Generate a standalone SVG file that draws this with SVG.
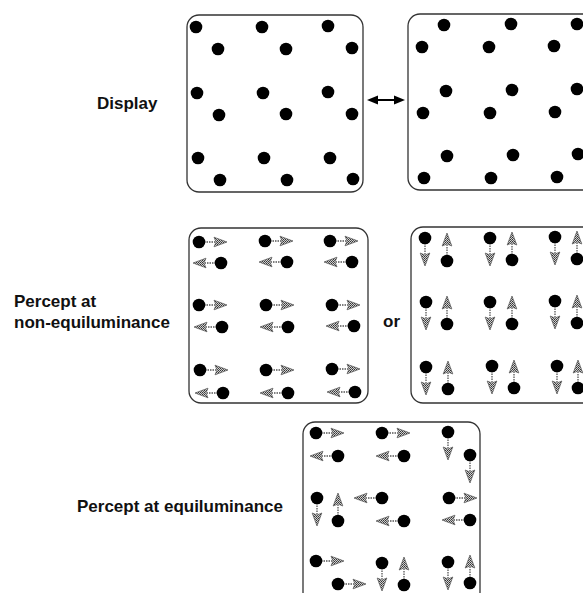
<svg xmlns="http://www.w3.org/2000/svg" xmlns:xlink="http://www.w3.org/1999/xlink" width="583" height="593" viewBox="0 0 583 593">
<style>
.panel{fill:#fff;stroke:#333;stroke-width:1.3}
.dot{fill:#000}
.lbl{font-family:"Liberation Sans",Arial,Helvetica,sans-serif;font-weight:bold;font-size:17px;fill:#111}
.shaft{stroke:#555;stroke-width:1.3;stroke-dasharray:1.5 1;fill:none}
.head{fill:url(#ht);stroke:#555;stroke-width:0.7}
</style>
<defs>
<pattern id="ht" width="2" height="2" patternUnits="userSpaceOnUse">
<rect width="2" height="2" fill="#d0d0d0"/>
<rect width="1" height="1" fill="#333"/>
<rect x="1" y="1" width="1" height="1" fill="#555"/>
</pattern>
<g id="a">
<line class="shaft" x1="5" y1="0" x2="16" y2="0"/>
<polygon class="head" points="15,-4.8 28,0 15,4.8 17,0"/>
</g>
<circle id="d" r="6.3" class="dot"/>
</defs>
<rect width="583" height="593" fill="#fff"/>

<g id="label-display"><text class="lbl" x="97" y="109">Display</text></g>
<g id="label-nonequi"><text class="lbl" x="14" y="307">Percept at</text><text class="lbl" x="14" y="328">non-equiluminance</text></g>
<g id="label-or"><text class="lbl" x="383" y="327">or</text></g>
<g id="label-equi"><text class="lbl" x="77" y="512">Percept at equiluminance</text></g>

<g id="display-frame1">
<rect class="panel" x="187" y="15" width="176" height="177" rx="12"/>
<use href="#d" x="196" y="27"/><use href="#d" x="262" y="27"/><use href="#d" x="328" y="26"/>
<use href="#d" x="218" y="49"/><use href="#d" x="286" y="49"/><use href="#d" x="352" y="48"/>
<use href="#d" x="197" y="93"/><use href="#d" x="263" y="93"/><use href="#d" x="328" y="92"/>
<use href="#d" x="219" y="115"/><use href="#d" x="286" y="114"/><use href="#d" x="352" y="114"/>
<use href="#d" x="198" y="158"/><use href="#d" x="264" y="158"/><use href="#d" x="330" y="158"/>
<use href="#d" x="220" y="180"/><use href="#d" x="287" y="180"/><use href="#d" x="353" y="179"/>
</g>

<g id="display-frame2">
<rect class="panel" x="408" y="14" width="190" height="176" rx="12"/>
<use href="#d" x="444" y="25"/><use href="#d" x="511" y="24"/><use href="#d" x="577" y="24"/>
<use href="#d" x="422" y="47"/><use href="#d" x="489" y="47"/><use href="#d" x="554" y="46"/>
<use href="#d" x="446" y="91"/><use href="#d" x="512" y="90"/><use href="#d" x="577" y="89"/>
<use href="#d" x="423" y="113"/><use href="#d" x="490" y="113"/><use href="#d" x="555" y="112"/>
<use href="#d" x="447" y="156"/><use href="#d" x="513" y="155"/><use href="#d" x="578" y="154"/>
<use href="#d" x="424" y="178"/><use href="#d" x="491" y="178"/><use href="#d" x="557" y="177"/>
</g>

<g id="connectors">
<line x1="374" y1="100" x2="398" y2="100" stroke="#000" stroke-width="2"/>
<polygon points="367,100 378,95.5 378,104.5" fill="#000"/>
<polygon points="405,100 394,95.5 394,104.5" fill="#000"/>
</g>

<g id="percept-horizontal">
<rect class="panel" x="189" y="228" width="179" height="175" rx="12"/>
<use href="#a" transform="translate(199,242)"/><use href="#a" transform="translate(265,241)"/><use href="#a" transform="translate(330,241)"/>
<use href="#a" transform="translate(221,263) rotate(180)"/><use href="#a" transform="translate(287,262) rotate(180)"/><use href="#a" transform="translate(352,262) rotate(180)"/>
<use href="#a" transform="translate(199,305)"/><use href="#a" transform="translate(266,305)"/><use href="#a" transform="translate(332,305)"/>
<use href="#a" transform="translate(222,327) rotate(180)"/><use href="#a" transform="translate(288,327) rotate(180)"/><use href="#a" transform="translate(354,326) rotate(180)"/>
<use href="#a" transform="translate(200,370)"/><use href="#a" transform="translate(266,370)"/><use href="#a" transform="translate(332,369)"/>
<use href="#a" transform="translate(223,393) rotate(180)"/><use href="#a" transform="translate(288,393) rotate(180)"/><use href="#a" transform="translate(355,392) rotate(180)"/>
<use href="#d" x="199" y="242"/><use href="#d" x="265" y="241"/><use href="#d" x="330" y="241"/>
<use href="#d" x="221" y="263"/><use href="#d" x="287" y="262"/><use href="#d" x="352" y="262"/>
<use href="#d" x="199" y="305"/><use href="#d" x="266" y="305"/><use href="#d" x="332" y="305"/>
<use href="#d" x="222" y="327"/><use href="#d" x="288" y="327"/><use href="#d" x="354" y="326"/>
<use href="#d" x="200" y="370"/><use href="#d" x="266" y="370"/><use href="#d" x="332" y="369"/>
<use href="#d" x="223" y="393"/><use href="#d" x="288" y="393"/><use href="#d" x="355" y="392"/>
</g>

<g id="percept-vertical">
<rect class="panel" x="411" y="227" width="187" height="176" rx="12"/>
<use href="#a" transform="translate(425,238) rotate(90)"/><use href="#a" transform="translate(490,238) rotate(90)"/><use href="#a" transform="translate(555,237) rotate(90)"/>
<use href="#a" transform="translate(447,261) rotate(-90)"/><use href="#a" transform="translate(512,260) rotate(-90)"/><use href="#a" transform="translate(577,259) rotate(-90)"/>
<use href="#a" transform="translate(426,302) rotate(90)"/><use href="#a" transform="translate(490,302) rotate(90)"/><use href="#a" transform="translate(555,301) rotate(90)"/>
<use href="#a" transform="translate(447,324) rotate(-90)"/><use href="#a" transform="translate(512,324) rotate(-90)"/><use href="#a" transform="translate(577,323) rotate(-90)"/>
<use href="#a" transform="translate(426,367) rotate(90)"/><use href="#a" transform="translate(492,366) rotate(90)"/><use href="#a" transform="translate(557,366) rotate(90)"/>
<use href="#a" transform="translate(448,389) rotate(-90)"/><use href="#a" transform="translate(514,388) rotate(-90)"/><use href="#a" transform="translate(578,388) rotate(-90)"/>
<use href="#d" x="425" y="238"/><use href="#d" x="490" y="238"/><use href="#d" x="555" y="237"/>
<use href="#d" x="447" y="261"/><use href="#d" x="512" y="260"/><use href="#d" x="577" y="259"/>
<use href="#d" x="426" y="302"/><use href="#d" x="490" y="302"/><use href="#d" x="555" y="301"/>
<use href="#d" x="447" y="324"/><use href="#d" x="512" y="324"/><use href="#d" x="577" y="323"/>
<use href="#d" x="426" y="367"/><use href="#d" x="492" y="366"/><use href="#d" x="557" y="366"/>
<use href="#d" x="448" y="389"/><use href="#d" x="514" y="388"/><use href="#d" x="578" y="388"/>
</g>

<g id="percept-equiluminance">
<rect class="panel" x="303" y="422" width="177" height="182" rx="12"/>
<use href="#a" transform="translate(316,433)"/><use href="#a" transform="translate(382,433)"/><use href="#a" transform="translate(448,432) rotate(90)"/>
<use href="#a" transform="translate(338,456) rotate(180)"/><use href="#a" transform="translate(404,456) rotate(180)"/><use href="#a" transform="translate(470,455) rotate(90)"/>
<use href="#a" transform="translate(317,498) rotate(90)"/><use href="#a" transform="translate(338,521) rotate(-90)"/><use href="#a" transform="translate(382,498) rotate(180)"/><use href="#a" transform="translate(449,498)"/>
<use href="#a" transform="translate(404,521) rotate(180)"/><use href="#a" transform="translate(470,520) rotate(180)"/>
<use href="#a" transform="translate(316,561)"/><use href="#a" transform="translate(382,563) rotate(90)"/><use href="#a" transform="translate(404,585) rotate(-90)"/><use href="#a" transform="translate(448,562) rotate(90)"/><use href="#a" transform="translate(470,583) rotate(-90)"/>
<use href="#a" transform="translate(338,584)"/>
<use href="#d" x="316" y="433"/><use href="#d" x="382" y="433"/><use href="#d" x="448" y="432"/>
<use href="#d" x="338" y="456"/><use href="#d" x="404" y="456"/><use href="#d" x="470" y="455"/>
<use href="#d" x="317" y="498"/><use href="#d" x="338" y="521"/><use href="#d" x="382" y="498"/><use href="#d" x="449" y="498"/>
<use href="#d" x="404" y="521"/><use href="#d" x="470" y="520"/>
<use href="#d" x="316" y="561"/><use href="#d" x="382" y="563"/><use href="#d" x="404" y="585"/><use href="#d" x="448" y="562"/><use href="#d" x="470" y="583"/>
<use href="#d" x="338" y="584"/>
</g>
</svg>
